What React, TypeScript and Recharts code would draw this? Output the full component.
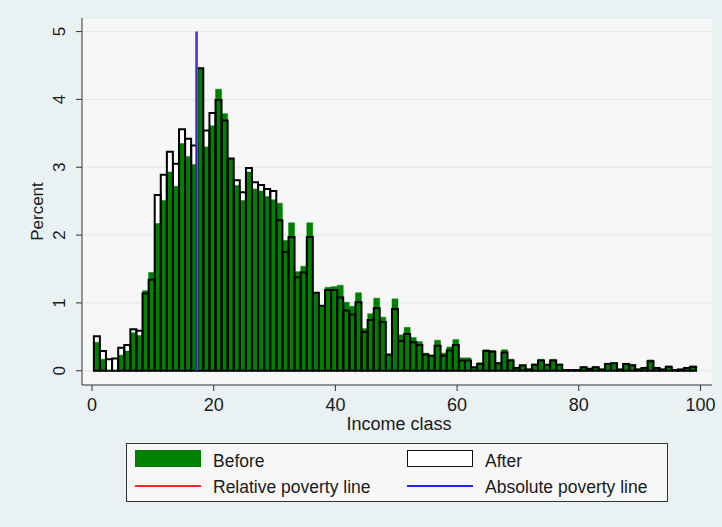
import {
  BarChart,
  Bar,
  XAxis,
  YAxis,
  CartesianGrid,
  ReferenceLine,
} from "recharts";

// bin midpoints of the income classes (99 bins, width 1)
const incomeClass = [
  0.8, 1.8, 2.8, 3.8, 4.8, 5.8, 6.8, 7.8, 8.8, 9.8,
  10.8, 11.8, 12.8, 13.8, 14.8, 15.8, 16.8, 17.8, 18.8, 19.8,
  20.8, 21.8, 22.8, 23.8, 24.8, 25.8, 26.8, 27.8, 28.8, 29.8,
  30.8, 31.8, 32.8, 33.8, 34.8, 35.8, 36.8, 37.8, 38.8, 39.8,
  40.8, 41.8, 42.8, 43.8, 44.8, 45.8, 46.8, 47.8, 48.8, 49.8,
  50.8, 51.8, 52.8, 53.8, 54.8, 55.8, 56.8, 57.8, 58.8, 59.8,
  60.8, 61.8, 62.8, 63.8, 64.8, 65.8, 66.8, 67.8, 68.8, 69.8,
  70.8, 71.8, 72.8, 73.8, 74.8, 75.8, 76.8, 77.8, 78.8, 79.8,
  80.8, 81.8, 82.8, 83.8, 84.8, 85.8, 86.8, 87.8, 88.8, 89.8,
  90.8, 91.8, 92.8, 93.8, 94.8, 95.8, 96.8, 97.8, 98.8,
];

const beforePct = [
  0.42, 0.17, 0.0, 0.0, 0.23, 0.29, 0.56, 0.52, 1.18, 1.45,
  2.17, 2.51, 2.93, 2.72, 3.35, 3.16, 3.04, 4.46, 3.3, 3.61,
  4.15, 3.79, 3.12, 2.73, 2.51, 2.93, 2.68, 2.65, 2.57, 2.52,
  2.47, 1.92, 2.18, 1.46, 1.54, 2.18, 1.15, 0.96, 1.23, 1.24,
  1.26, 1.01, 0.95, 1.15, 0.62, 0.84, 1.07, 0.79, 0.24, 1.06,
  0.53, 0.64, 0.49, 0.43, 0.26, 0.23, 0.45, 0.26, 0.35, 0.46,
  0.19, 0.19, 0.05, 0.12, 0.31, 0.3, 0.12, 0.31, 0.17, 0.05,
  0.08, 0.02, 0.1, 0.17, 0.09, 0.17, 0.1, 0.01, 0.01, 0.01,
  0.06, 0.03, 0.06, 0.02, 0.11, 0.12, 0.02, 0.11, 0.09, 0.02,
  0.05, 0.16, 0.05, 0.02, 0.07, 0.01, 0.02, 0.05, 0.07,
];

const afterPct = [
  0.51, 0.29, 0.17, 0.18, 0.34, 0.38, 0.61, 0.59, 1.14, 1.34,
  2.59, 2.89, 3.23, 3.05, 3.56, 3.42, 3.32, 4.46, 3.54, 3.8,
  3.99, 3.69, 3.13, 2.81, 2.63, 2.99, 2.78, 2.74, 2.68, 2.65,
  2.22, 1.75, 1.97, 1.38, 1.45, 1.97, 1.15, 0.96, 1.19, 1.19,
  1.08, 0.89, 0.83, 1.01, 0.57, 0.75, 0.92, 0.72, 0.24, 0.91,
  0.44, 0.54, 0.42, 0.38, 0.24, 0.22, 0.37, 0.22, 0.3, 0.38,
  0.15, 0.15, 0.05, 0.1, 0.29, 0.28, 0.11, 0.27, 0.15, 0.04,
  0.08, 0.02, 0.09, 0.15, 0.09, 0.15, 0.09, 0.01, 0.01, 0.01,
  0.05, 0.03, 0.05, 0.02, 0.1, 0.11, 0.02, 0.1, 0.08, 0.02,
  0.04, 0.14, 0.04, 0.02, 0.06, 0.01, 0.02, 0.04, 0.06,
];

const xTicks = [0, 20, 40, 60, 80, 100];
const yTicks = [0, 1, 2, 3, 4, 5];

const relativePovertyLine = 17.3;
const absolutePovertyLine = 17.1;

const data = incomeClass.map((x, i) => ({
  x,
  before: beforePct[i],
  after: afterPct[i],
}));

const FONT = "'Liberation Sans', Arial, sans-serif";
const TEXT = "#1a1a1a";
const GREEN = "#008000";
const RED = "#ff2020";
const BLUE = "#2424f0";

function YTick({ x, y, payload }: { x?: number; y?: number; payload?: { value: number } }) {
  const bx = (x ?? 0) - 9;
  return (
    <text
      x={bx}
      y={y}
      transform={`rotate(-90 ${bx} ${y})`}
      textAnchor="middle"
      fontSize={17}
      fontFamily={FONT}
      fill={TEXT}
    >
      {payload?.value}
    </text>
  );
}

function YTitle({ viewBox }: { viewBox?: { x: number; y: number; width: number; height: number } }) {
  const vb = viewBox ?? { x: 22, y: 18, width: 60, height: 367 };
  const cx = vb.x + 21;
  const cy = vb.y + vb.height / 2 + 10;
  return (
    <text
      x={cx}
      y={cy}
      transform={`rotate(-90 ${cx} ${cy})`}
      textAnchor="middle"
      fontSize={17}
      fontFamily={FONT}
      fill={TEXT}
    >
      Percent
    </text>
  );
}

function XTitle({ viewBox }: { viewBox?: { x: number; y: number; width: number; height: number } }) {
  const vb = viewBox ?? { x: 82, y: 385, width: 630, height: 30 };
  return (
    <text
      x={vb.x + vb.width / 2 + 2}
      y={vb.y + 45}
      textAnchor="middle"
      fontSize={18}
      fontFamily={FONT}
      fill={TEXT}
    >
      Income class
    </text>
  );
}

function LegendBox() {
  const row = { position: "absolute" as const, fontSize: 17.5, color: TEXT, lineHeight: "20px" };
  return (
    <div
      style={{
        position: "absolute",
        left: 126,
        top: 443,
        width: 540,
        height: 57,
        border: "1px solid #333",
        background: "#f7f7f7",
        fontFamily: FONT,
      }}
    >
      <div style={{ position: "absolute", left: 8, top: 6, width: 66, height: 17, background: GREEN }} />
      <div style={{ ...row, left: 86, top: 7 }}>Before</div>
      <div
        style={{
          position: "absolute",
          left: 280,
          top: 6,
          width: 64,
          height: 15,
          background: "#fff",
          border: "1.5px solid #111",
        }}
      />
      <div style={{ ...row, left: 358, top: 7 }}>After</div>
      <div style={{ position: "absolute", left: 8, top: 41, width: 66, height: 2, background: RED }} />
      <div style={{ ...row, left: 86, top: 33 }}>Relative poverty line</div>
      <div style={{ position: "absolute", left: 280, top: 41, width: 66, height: 2, background: BLUE }} />
      <div style={{ ...row, left: 358, top: 33 }}>Absolute poverty line</div>
    </div>
  );
}

export default function App() {
  return (
    <div
      style={{
        position: "absolute",
        left: 0,
        top: 0,
        width: 722,
        height: 527,
        background: "#eaf1f2",
      }}
    >
      <BarChart
        width={722}
        height={527}
        data={data}
        margin={{ top: 18, right: 10, left: 22, bottom: 112 }}
        barGap={-6}
        barSize={6}
      >
        <CartesianGrid vertical={false} stroke="#dde9ea" fill="#f7f7f7" />
        <XAxis
          dataKey="x"
          type="number"
          domain={[-1.65, 101.9]}
          ticks={xTicks}
          allowDataOverflow
          height={30}
          tickSize={6}
          tickMargin={7}
          axisLine={{ stroke: "#333" }}
          tickLine={{ stroke: "#333" }}
          tick={{ fill: TEXT, fontSize: 18, fontFamily: FONT }}
          label={<XTitle />}
        />
        <YAxis
          type="number"
          domain={[-0.21, 5.2]}
          ticks={yTicks}
          allowDataOverflow
          width={60}
          tickSize={6}
          axisLine={{ stroke: "#333" }}
          tickLine={{ stroke: "#333" }}
          tick={<YTick />}
          label={<YTitle />}
        />
        <Bar dataKey="after" fill="#ffffff" isAnimationActive={false} />
        <Bar dataKey="before" fill={GREEN} stroke={GREEN} strokeWidth={0.5} isAnimationActive={false} />
        <Bar
          dataKey="after"
          fill="none"
          stroke="#000"
          strokeWidth={2}
          isAnimationActive={false}
        />
        <ReferenceLine
          segment={[
            { x: relativePovertyLine, y: 0 },
            { x: relativePovertyLine, y: 5 },
          ]}
          stroke={RED}
          strokeWidth={1.5}
        />
        <ReferenceLine
          segment={[
            { x: absolutePovertyLine, y: 0 },
            { x: absolutePovertyLine, y: 5 },
          ]}
          stroke={BLUE}
          strokeWidth={1.5}
        />
      </BarChart>
      <LegendBox />
    </div>
  );
}
